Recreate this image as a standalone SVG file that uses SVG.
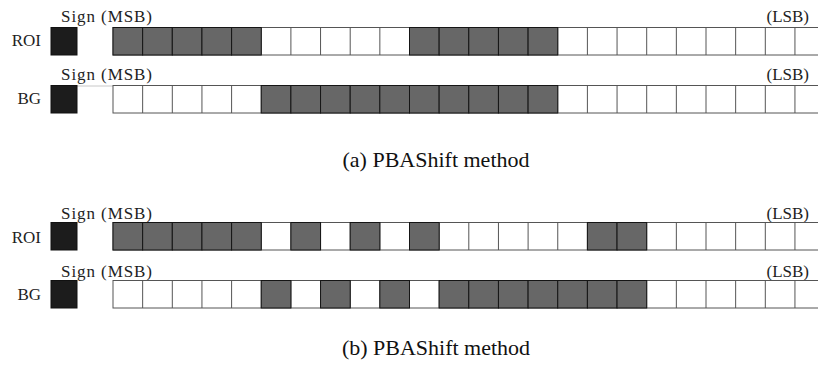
<svg xmlns="http://www.w3.org/2000/svg" xmlns:xlink="http://www.w3.org/1999/xlink" width="818" height="368" viewBox="0 0 818 368">
  <style>
    text { font-family: Tinos, "Noto Serif", "Times New Roman", Times, FreeSerif, "Liberation Serif", "DejaVu Serif", serif; fill: #1e1e1e; }
    .lbl { font-size: 17px; }
    .cap { font-size: 22px; text-anchor: middle; fill: #111; }
    .sign { fill: #1c1c1c; stroke: #111; stroke-width: 1; }
    .g { fill: #676767; stroke: #151515; stroke-width: 1; }
    .strip { fill: #fff; stroke: #555; stroke-width: 1; }
    .div { fill: none; stroke: #555; stroke-width: 1; }
  </style>
  <defs>
    <!-- 24-bit magnitude strip: white cells with dividers, cell width 29.65 -->
    <g id="strip">
      <rect class="strip" x="113" y="0" width="720" height="27.5"/>
      <path class="div" d="M142.65 0v27.5M172.3 0v27.5M201.95 0v27.5M231.6 0v27.5M261.25 0v27.5M290.9 0v27.5M320.55 0v27.5M350.2 0v27.5M379.85 0v27.5M409.5 0v27.5M439.15 0v27.5M468.8 0v27.5M498.45 0v27.5M528.1 0v27.5M557.75 0v27.5M587.4 0v27.5M617.05 0v27.5M646.7 0v27.5M676.35 0v27.5M706 0v27.5M735.65 0v27.5M765.3 0v27.5M794.95 0v27.5"/>
    </g>
    <rect id="cell" class="g" x="0" y="0" width="29.65" height="27.5"/>
  </defs>

  <!-- (a) ROI row -->
  <g id="a-roi">
    <text class="lbl" x="61" y="22" textLength="91">Sign (MSB)</text>
    <text class="lbl" x="809" y="22" text-anchor="end">(LSB)</text>
    <text class="lbl" x="41" y="46" text-anchor="end">ROI</text>
    <g transform="translate(0,27.5)">
      <rect class="sign" x="51" y="0" width="26" height="27.5"/>
      <use xlink:href="#strip"/>
      <use xlink:href="#cell" x="113"/>
      <use xlink:href="#cell" x="142.65"/>
      <use xlink:href="#cell" x="172.3"/>
      <use xlink:href="#cell" x="201.95"/>
      <use xlink:href="#cell" x="231.6"/>
      <use xlink:href="#cell" x="409.5"/>
      <use xlink:href="#cell" x="439.15"/>
      <use xlink:href="#cell" x="468.8"/>
      <use xlink:href="#cell" x="498.45"/>
      <use xlink:href="#cell" x="528.1"/>
    </g>
  </g>

  <!-- (a) BG row -->
  <g id="a-bg">
    <text class="lbl" x="61" y="80" textLength="91">Sign (MSB)</text>
    <text class="lbl" x="809" y="80" text-anchor="end">(LSB)</text>
    <text class="lbl" x="41" y="104" text-anchor="end">BG</text>
    <g transform="translate(0,85.5)">
      <line x1="77" y1="0.5" x2="113" y2="0.5" stroke="#c8c8c8" stroke-width="1"/>
      <rect class="sign" x="51" y="0" width="26" height="27.5"/>
      <use xlink:href="#strip"/>
      <use xlink:href="#cell" x="261.25"/>
      <use xlink:href="#cell" x="290.9"/>
      <use xlink:href="#cell" x="320.55"/>
      <use xlink:href="#cell" x="350.2"/>
      <use xlink:href="#cell" x="379.85"/>
      <use xlink:href="#cell" x="409.5"/>
      <use xlink:href="#cell" x="439.15"/>
      <use xlink:href="#cell" x="468.8"/>
      <use xlink:href="#cell" x="498.45"/>
      <use xlink:href="#cell" x="528.1"/>
    </g>
  </g>

  <text id="cap-a" class="cap" x="436" y="167">(a) PBAShift method</text>

  <!-- (b) ROI row -->
  <g id="b-roi">
    <text class="lbl" x="61" y="219" textLength="91">Sign (MSB)</text>
    <text class="lbl" x="809" y="219" text-anchor="end">(LSB)</text>
    <text class="lbl" x="41" y="243" text-anchor="end">ROI</text>
    <g transform="translate(0,222.5)">
      <rect class="sign" x="51" y="0" width="26" height="27.5"/>
      <use xlink:href="#strip"/>
      <use xlink:href="#cell" x="113"/>
      <use xlink:href="#cell" x="142.65"/>
      <use xlink:href="#cell" x="172.3"/>
      <use xlink:href="#cell" x="201.95"/>
      <use xlink:href="#cell" x="231.6"/>
      <use xlink:href="#cell" x="290.9"/>
      <use xlink:href="#cell" x="350.2"/>
      <use xlink:href="#cell" x="409.5"/>
      <use xlink:href="#cell" x="587.4"/>
      <use xlink:href="#cell" x="617.05"/>
    </g>
  </g>

  <!-- (b) BG row -->
  <g id="b-bg">
    <text class="lbl" x="61" y="277" textLength="91">Sign (MSB)</text>
    <text class="lbl" x="809" y="277" text-anchor="end">(LSB)</text>
    <text class="lbl" x="41" y="300" text-anchor="end">BG</text>
    <g transform="translate(0,280.5)">
      <rect class="sign" x="51" y="0" width="26" height="27.5"/>
      <use xlink:href="#strip"/>
      <use xlink:href="#cell" x="261.25"/>
      <use xlink:href="#cell" x="320.55"/>
      <use xlink:href="#cell" x="379.85"/>
      <use xlink:href="#cell" x="439.15"/>
      <use xlink:href="#cell" x="468.8"/>
      <use xlink:href="#cell" x="498.45"/>
      <use xlink:href="#cell" x="528.1"/>
      <use xlink:href="#cell" x="557.75"/>
      <use xlink:href="#cell" x="587.4"/>
      <use xlink:href="#cell" x="617.05"/>
    </g>
  </g>

  <text id="cap-b" class="cap" x="436" y="355">(b) PBAShift method</text>
</svg>
